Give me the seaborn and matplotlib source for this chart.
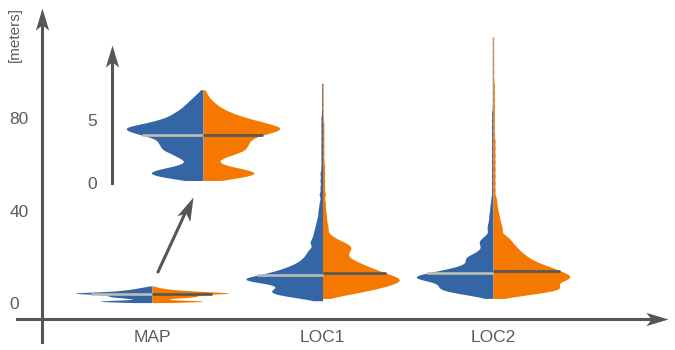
import numpy as np
import pandas as pd
import matplotlib
matplotlib.use("Agg")
import matplotlib.pyplot as plt
from matplotlib.path import Path
from matplotlib.markers import MarkerStyle
from matplotlib.transforms import Affine2D
import seaborn as sns

# --- data: heights [m], as value / count pairs ---------------------------------
SITES = ["MAP", "LOC1", "LOC2"]
SIDES = ["first", "second"]

MAP_VALUES = [0.2, 0.5, 0.8, 1.1, 1.4, 1.7, 2.0, 2.3, 2.6, 2.9, 3.2, 3.5, 3.8,
              4.1, 4.4, 4.7, 5.0, 5.3, 5.6, 5.9, 6.2, 6.5, 6.8, 7.1, 7.4]
MAP_FIRST_COUNTS = [8, 22, 28, 22, 12, 8, 12, 15, 20, 21, 22, 23, 30,
                    37, 40, 30, 22, 17, 14, 11, 9, 7, 5, 3, 1]
MAP_SECOND_COUNTS = [8, 22, 28, 21, 11, 7, 10, 16, 21, 22, 23, 24, 29,
                     37, 40, 33, 26, 19, 14, 10, 7, 5, 3, 2, 1]

LOC1_FIRST_VALUES = [1, 2, 3, 4, 5, 6, 7, 8, 9, 10, 11, 12, 13, 14, 15, 16, 17,
                     18, 19, 20, 21, 22, 23, 24, 26, 28, 30, 32, 34, 36, 38, 40,
                     42, 44, 47, 50, 53, 56, 59, 62, 65, 68, 71, 74, 77, 80, 83,
                     86, 89, 92, 95]
LOC1_FIRST_COUNTS = [1, 8, 18, 23, 24, 22, 18, 17, 30, 40, 34, 28, 23, 20, 17,
                     14, 12, 10, 9, 8, 7, 7, 6, 6, 12, 9, 8, 7, 6, 5, 4, 4,
                     3, 3, 4, 3, 3, 3, 2, 2, 2, 2, 2, 2, 2, 2, 1, 1, 1, 1, 1]

LOC1_SECOND_VALUES = [2, 3, 4, 5, 6, 7, 8, 9, 10, 11, 12, 13, 14, 15, 16, 17,
                      18, 19, 20, 21, 22, 23, 24, 25, 26, 27, 28, 29, 30, 32,
                      34, 36, 38, 40, 42, 44, 47, 50, 53, 56, 59, 62, 65, 68,
                      71, 74, 77, 80, 83, 86, 89, 92, 95]
LOC1_SECOND_COUNTS = [2, 8, 15, 21, 26, 31, 35, 38, 40, 38, 35, 31, 28, 25, 22,
                      20, 17, 14, 13, 12, 13, 14, 15, 14, 12, 9, 6, 5, 4, 6, 5,
                      4, 4, 3, 3, 3, 4, 3, 3, 3, 3, 2, 2, 2, 2, 2, 2, 1, 1, 1,
                      1, 1, 1]

LOC2_VALUES = [2, 3, 4, 5, 6, 7, 8, 9, 10, 11, 12, 13, 14, 15, 16, 17, 18, 19,
               20, 21, 22, 23, 24, 25, 26, 27, 28, 29, 30, 32, 34, 36, 38, 40,
               42, 44, 46, 49, 52, 55, 58, 61, 64, 67, 70, 73, 76, 79, 82, 85,
               88, 91, 94, 97, 100, 103, 106, 109, 112, 115]
LOC2_FIRST_COUNTS = [1, 8, 16, 22, 26, 26, 24, 25, 34, 40, 37, 30, 25, 20, 15,
                     12, 12, 14, 13, 10, 8, 6, 5, 6, 7, 7, 5, 4, 3, 6, 5, 4, 4,
                     3, 3, 2, 2, 2, 2, 2, 2, 2, 2, 2, 2, 2, 2, 2, 2, 1, 1, 1,
                     1, 1, 1, 1, 1, 1, 1, 1]
LOC2_SECOND_COUNTS = [2, 12, 22, 30, 35, 35, 30, 32, 37, 40, 39, 36, 33, 31,
                      27, 24, 21, 19, 17, 16, 14, 13, 12, 11, 10, 9, 8, 7, 6,
                      10, 8, 7, 6, 5, 4, 4, 3, 3, 3, 3, 3, 3, 3, 3, 3, 2, 2, 2,
                      2, 2, 2, 2, 2, 1, 1, 1, 1, 1, 1, 1]

# --- style ---------------------------------------------------------------------
PALETTE = {"first": "#3465a4", "second": "#f57900"}
MEDIAN_COLORS = ["#babdb6", "#555753"]
AXIS_COLOR = "#555753"
TEXT_COLOR = "#5c5c5c"
FONT_SIZE = 12.5


def build_frame():
    groups = [
        ("MAP", "first", MAP_VALUES, MAP_FIRST_COUNTS),
        ("MAP", "second", MAP_VALUES, MAP_SECOND_COUNTS),
        ("LOC1", "first", LOC1_FIRST_VALUES, LOC1_FIRST_COUNTS),
        ("LOC1", "second", LOC1_SECOND_VALUES, LOC1_SECOND_COUNTS),
        ("LOC2", "first", LOC2_VALUES, LOC2_FIRST_COUNTS),
        ("LOC2", "second", LOC2_VALUES, LOC2_SECOND_COUNTS),
    ]
    parts = []
    for site, side, vals, counts in groups:
        h = np.repeat(vals, counts)
        parts.append(pd.DataFrame({"site": site, "side": side, "height": h}))
    return pd.concat(parts, ignore_index=True)


def fixed_bw(sigma):
    # absolute kernel width in metres, whatever the spread of the group
    return lambda kde: sigma / kde.dataset.std(ddof=1)


def violins(ax, data, sigma):
    before = len(ax.collections)
    sns.violinplot(data=data, x="site", y="height", hue="side", order=SITES,
                   hue_order=SIDES, split=True, inner=None, cut=0,
                   density_norm="width", width=0.9, linewidth=0, saturation=1,
                   palette=PALETTE, bw_method=fixed_bw(sigma), gridsize=400,
                   legend=False, ax=ax)
    return ax.collections[before:]


def add_medians(ax, collections, frame):
    """Median line of each half, drawn out to the violin edge."""
    for coll in collections:
        verts = coll.get_paths()[0].vertices
        xs, ys = verts[:, 0], verts[:, 1]
        if abs(xs.max() - round(xs.max())) < 1e-6:
            center, side = xs.max(), 0
        else:
            center, side = xs.min(), 1
        site = SITES[int(round(center))]
        sub = frame[(frame["site"] == site) & (frame["side"] == SIDES[side])]
        med = np.median(sub["height"])
        edge = np.abs(xs - center) > 1e-9
        order = np.argsort(ys[edge])
        half = np.interp(med, ys[edge][order], np.abs(xs - center)[edge][order])
        x0, x1 = (center - half, center) if side == 0 else (center, center + half)
        ax.plot([x0, x1], [med, med], color=MEDIAN_COLORS[side], lw=1.9,
                solid_capstyle="butt", zorder=3)


HEAD = Path([(0, 0), (-1, 0.3), (-0.75, 0), (-1, -0.3), (0, 0)],
            [Path.MOVETO, Path.LINETO, Path.LINETO, Path.LINETO, Path.CLOSEPOLY])


def arrow_head(ax, x, y, angle, size=32):
    marker = MarkerStyle(HEAD, transform=Affine2D().rotate_deg(angle))
    ax.plot(x, y, marker=marker, markersize=size, color=AXIS_COLOR,
            markeredgewidth=0, clip_on=False, zorder=6)


def style_axis(ax):
    for name in ["top", "right"]:
        ax.spines[name].set_visible(False)
    for name in ["left", "bottom"]:
        ax.spines[name].set_color(AXIS_COLOR)
        ax.spines[name].set_linewidth(2.2)
    ax.set_xlabel("")
    ax.set_ylabel("")
    ax.tick_params(colors=AXIS_COLOR, labelcolor=TEXT_COLOR, labelsize=FONT_SIZE)


sns.set_theme(style="white")
plt.rcParams["font.family"] = ["Liberation Sans", "DejaVu Sans"]

df = build_frame()
fig = plt.figure(figsize=(6.75, 3.5), dpi=100)

# main panel (axes fills the figure, limits chosen to place the plot)
ax = fig.add_axes([0, 0, 1, 1])
ax.patch.set_alpha(0)
colls = violins(ax, df[df["site"] == "MAP"], 0.2)
add_medians(ax, colls, df)
colls = violins(ax, df[df["site"] != "MAP"], 1.2)
add_medians(ax, colls, df)

ax.set_xlim(-0.8915, 3.0674)
ax.set_ylim(-20.3, 131.0)
style_axis(ax)
ax.spines["left"].set_position(("data", -0.645))
ax.spines["left"].set_bounds(-16.9, 123)
ax.spines["bottom"].set_position(("data", -6.9))
ax.spines["bottom"].set_bounds(-0.792, 2.97)
ax.set_yticks([0, 40, 80])
ax.set_xticks(range(len(SITES)), SITES)
# y labels are left-aligned in the reference
ax.tick_params(axis="y", direction="inout", length=5, width=2, pad=21)
for lab in ax.get_yticklabels():
    lab.set_horizontalalignment("left")
ax.tick_params(axis="x", direction="in", length=6, width=2, pad=8)
arrow_head(ax, -0.645, 127.6, 90)
arrow_head(ax, 3.026, -6.9, 0)
fig.text(15 / 675, 1 - 35 / 350, "[meters]", rotation=90, ha="center",
         va="center", color=TEXT_COLOR, fontsize=11)

# pointer from the small MAP violin to the zoomed copy
ax.plot([0.035, 0.214], [13.4, 42.0], color=AXIS_COLOR, lw=2.2, zorder=5)
arrow_head(ax, 0.2387, 45.97, 65.9, size=34)

# inset: MAP at its own scale
ax_in = fig.add_axes([100 / 675, 160 / 350, 200 / 675, 150 / 350])
ax_in.patch.set_alpha(0)
colls = violins(ax_in, df[df["site"] == "MAP"], 0.2)
add_medians(ax_in, colls, df)
ax_in.set_xlim(-0.604, 0.569)
ax_in.set_ylim(-0.556, 11.35)
style_axis(ax_in)
ax_in.spines["bottom"].set_visible(False)
ax_in.spines["left"].set_position(("data", -0.534))
ax_in.spines["left"].set_bounds(0, 10.2)
ax_in.set_yticks([0, 5])
ax_in.set_xticks([])
ax_in.tick_params(axis="y", direction="inout", length=5, width=2, pad=8)
arrow_head(ax_in, -0.534, 10.95, 90)

fig.savefig("out.png", dpi=100)
